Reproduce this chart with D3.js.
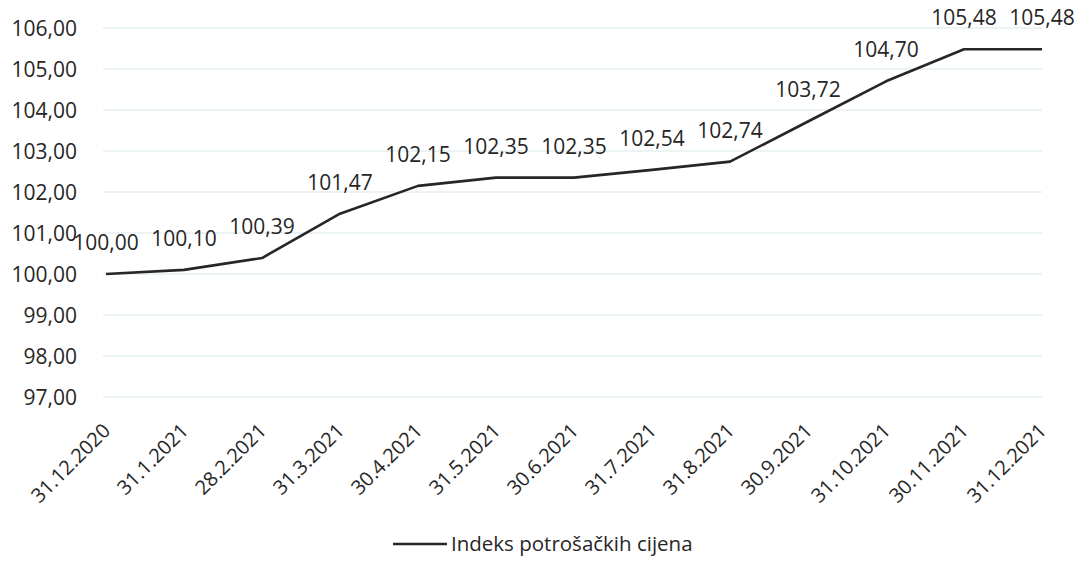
<!DOCTYPE html>
<html>
<head>
<meta charset="utf-8">
<script src="https://cdn.jsdelivr.net/npm/d3@7"></script>
<style>
  html, body { margin: 0; padding: 0; background: #fff; }
  svg { display: block; }
  text { font-family: "Open Sans", "Noto Sans", sans-serif; fill: #262626; }
</style>
</head>
<body>
<svg id="chart" width="1080" height="564"></svg>
<script>
// Consumer price index, end of month (31.12.2020 = 100)
const dates = ["31.12.2020", "31.1.2021", "28.2.2021", "31.3.2021", "30.4.2021", "31.5.2021",
               "30.6.2021", "31.7.2021", "31.8.2021", "30.9.2021", "31.10.2021", "30.11.2021", "31.12.2021"];
const indexValues = [100.00, 100.10, 100.39, 101.47, 102.15, 102.35, 102.35, 102.54, 102.74, 103.72, 104.70, 105.48, 105.48];
const yTicks = [97, 98, 99, 100, 101, 102, 103, 104, 105, 106];
const seriesName = "Indeks potrošačkih cijena";

const svg = d3.select("#chart");
const fmt = v => v.toFixed(2).replace(".", ",");

const x = d3.scalePoint().domain(dates).range([106, 1042]).padding(0);
const y = d3.scaleLinear().domain([97, 106]).range([397, 28]);

// horizontal gridlines
svg.append("g")
  .selectAll("line")
  .data(yTicks)
  .join("line")
  .attr("x1", 103).attr("x2", 1042)
  .attr("y1", d => y(d)).attr("y2", d => y(d))
  .attr("stroke", "#e6eff0").attr("stroke-width", 1.5);

// y axis labels
const yAxis = d3.axisLeft(y).tickValues(yTicks).tickFormat(fmt).tickSize(0).tickPadding(0);
const gy = svg.append("g").attr("transform", "translate(77,0)").call(yAxis);
gy.select(".domain").remove();
gy.selectAll("text").style("font-size", "21px").style("font-family", "'Open Sans', sans-serif").attr("fill", "#262626").attr("dy", "0.36em");

// x axis labels, rotated
const xAxis = d3.axisBottom(x).tickSize(0).tickPadding(0);
const gx = svg.append("g").attr("transform", "translate(0,397)").call(xAxis);
gx.select(".domain").remove();
gx.selectAll("text")
  .style("font-size", "20px").style("font-family", "'Open Sans', sans-serif").attr("fill", "#262626")
  .attr("text-anchor", "end")
  .attr("dy", null).attr("y", 0)
  .attr("transform", "translate(5,35) rotate(-45)");

// index line
const line = d3.line().x((d, i) => x(dates[i])).y(d => y(d));
svg.append("path")
  .datum(indexValues)
  .attr("d", line)
  .attr("fill", "none")
  .attr("stroke", "#262626")
  .attr("stroke-width", 2.6)
  .attr("stroke-linejoin", "round");

// value labels above points
svg.append("g")
  .selectAll("text")
  .data(indexValues)
  .join("text")
  .attr("x", (d, i) => x(dates[i]))
  .attr("y", d => y(d) - 24)
  .attr("text-anchor", "middle")
  .style("font-size", "21px")
  .text(fmt);

// legend
const lg = svg.append("g").attr("transform", "translate(393,544)");
lg.append("line").attr("x1", 0).attr("x2", 54).attr("y1", 0).attr("y2", 0)
  .attr("stroke", "#262626").attr("stroke-width", 2.6);
lg.append("text").attr("x", 58).attr("y", 0).attr("dy", "0.35em")
  .style("font-size", "20.5px").text(seriesName);
</script>
</body>
</html>
